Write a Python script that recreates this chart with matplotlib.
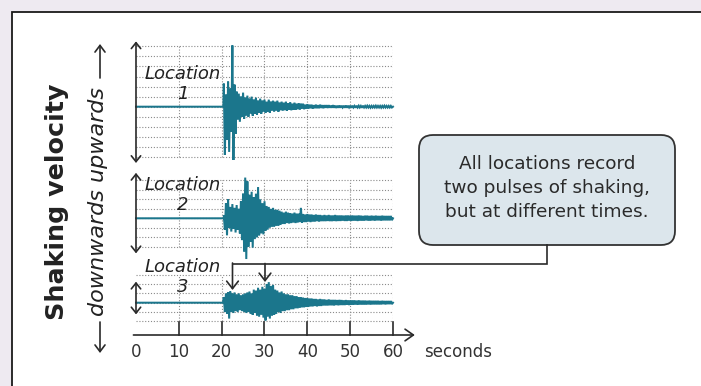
import numpy as np
import matplotlib
matplotlib.use('Agg')
import matplotlib.pyplot as plt
from matplotlib.patches import FancyBboxPatch, Rectangle

# ---------------- data ----------------
time_ticks = [0, 10, 20, 30, 40, 50, 60]
tick_labels = ['0', '10', '20', '30', '40', '50', '60']
location_names = ['Location\n1', 'Location\n2', 'Location\n3']
onset_times = [20.4, 20.7, 20.3]
sample_start = 20.5          # first peak time (s)
half_period = 0.25           # time between a peak and the next trough (s)
record_end = 60.0

loc1_peaks = [2.3, 1.2, 2.5, 1.8, 6.1, 2.2, 1.5, 1.3, 1.0, 1.4,
              0.9, 1.1, 0.8, 1.0, 0.7, 0.9, 0.6, 0.8, 0.6, 0.7,
              0.5, 0.7, 0.5, 0.6, 0.5, 0.6, 0.4, 0.5, 0.4, 0.5,
              0.35, 0.45, 0.3, 0.4, 0.3, 0.35, 0.3, 0.3, 0.2, 0.25,
              0.2, 0.2, 0.15, 0.2, 0.15, 0.2, 0.15, 0.15, 0.15, 0.15,
              0.1, 0.15, 0.1, 0.1, 0.12, 0.1, 0.1, 0.12, 0.1, 0.1,
              0.1, 0.08, 0.1, 0.1, 0.08, 0.1, 0.08, 0.1, 0.08, 0.08,
              0.08, 0.1, 0.08, 0.08, 0.08, 0.1, 0.08, 0.08, 0.08]
loc1_troughs = [-4.8, -3.3, -4.5, -2.5, -5.3, -2.7, -1.3, -1.5, -1.0, -1.2,
                -0.9, -1.0, -0.7, -0.9, -0.7, -0.8, -0.6, -0.7, -0.5, -0.6,
                -0.5, -0.6, -0.4, -0.5, -0.4, -0.5, -0.35, -0.4, -0.35, -0.4,
                -0.3, -0.35, -0.3, -0.3, -0.25, -0.3, -0.2, -0.25, -0.2, -0.2,
                -0.15, -0.2, -0.15, -0.15, -0.15, -0.12, -0.15, -0.1, -0.12, -0.1,
                -0.1, -0.1, -0.12, -0.1, -0.1, -0.08, -0.1, -0.1, -0.08, -0.1,
                -0.08, -0.1, -0.08, -0.08, -0.1, -0.08, -0.08, -0.08, -0.1, -0.08,
                -0.08, -0.08, -0.08, -0.1, -0.08, -0.08, -0.08, -0.08, -0.08]

loc2_peaks = [0.3, 1.6, 2.0, 1.2, 1.5, 1.1, 1.4, 1.0, 1.8, 2.6,
              4.3, 3.9, 2.5, 2.8, 2.2, 2.6, 3.3, 2.0, 1.6, 1.8,
              1.3, 1.2, 1.0, 1.1, 0.9, 0.9, 0.8, 0.7, 0.6, 0.7,
              0.6, 0.55, 0.5, 0.6, 0.5, 0.5, 1.1, 0.45, 0.4, 0.45,
              0.4, 0.4, 0.35, 0.4, 0.35, 0.35, 0.3, 0.35, 0.3, 0.35,
              0.3, 0.3, 0.35, 0.3, 0.3, 0.3, 0.28, 0.3, 0.3, 0.28,
              0.3, 0.28, 0.28, 0.3, 0.28, 0.25, 0.28, 0.28, 0.25, 0.28,
              0.25, 0.28, 0.25, 0.25, 0.28, 0.25, 0.25, 0.25, 0.25]
loc2_troughs = [-1.2, -1.8, -1.0, -1.4, -1.1, -1.5, -1.2, -1.6, -2.3, -3.5,
                -4.3, -3.0, -2.5, -3.1, -2.2, -2.0, -1.8, -1.6, -1.7, -1.3,
                -1.2, -1.0, -0.9, -0.9, -0.8, -0.8, -0.7, -0.6, -0.6, -0.5,
                -0.55, -0.5, -0.45, -0.5, -0.45, -0.4, -0.45, -0.4, -0.4, -0.35,
                -0.4, -0.35, -0.35, -0.3, -0.35, -0.3, -0.3, -0.3, -0.28, -0.3,
                -0.3, -0.28, -0.3, -0.28, -0.28, -0.25, -0.28, -0.28, -0.25, -0.28,
                -0.25, -0.25, -0.28, -0.25, -0.25, -0.25, -0.22, -0.25, -0.25, -0.22,
                -0.25, -0.22, -0.22, -0.25, -0.22, -0.22, -0.22, -0.22, -0.2]

loc3_peaks = [0.6, 1.0, 1.1, 1.2, 1.0, 1.1, 0.9, 1.0, 0.8, 0.9,
              1.0, 1.1, 1.2, 1.0, 1.4, 1.3, 1.6, 1.4, 1.7, 1.5,
              2.0, 2.2, 1.8, 1.9, 1.4, 1.3, 1.1, 1.2, 1.0, 0.9,
              0.9, 0.8, 0.8, 0.7, 0.7, 0.6, 0.6, 0.55, 0.5, 0.5,
              0.45, 0.45, 0.4, 0.4, 0.35, 0.4, 0.35, 0.35, 0.3, 0.35,
              0.3, 0.3, 0.3, 0.28, 0.3, 0.28, 0.25, 0.28, 0.25, 0.25,
              0.25, 0.25, 0.22, 0.25, 0.22, 0.22, 0.22, 0.2, 0.22, 0.2,
              0.2, 0.2, 0.2, 0.18, 0.2, 0.18, 0.18, 0.18, 0.18]
loc3_troughs = [-1.0, -1.2, -1.7, -1.0, -1.1, -0.9, -1.0, -0.8, -0.9, -1.0,
                -1.1, -1.0, -1.2, -1.3, -1.1, -1.4, -1.5, -1.3, -1.6, -1.9,
                -1.5, -1.7, -1.4, -1.3, -1.2, -1.0, -1.1, -0.9, -0.9, -0.8,
                -0.8, -0.7, -0.7, -0.6, -0.6, -0.55, -0.5, -0.5, -0.45, -0.45,
                -0.4, -0.4, -0.35, -0.4, -0.35, -0.35, -0.3, -0.3, -0.3, -0.28,
                -0.28, -0.3, -0.25, -0.28, -0.25, -0.25, -0.25, -0.22, -0.25, -0.22,
                -0.22, -0.2, -0.22, -0.2, -0.2, -0.2, -0.2, -0.18, -0.2, -0.18,
                -0.18, -0.18, -0.18, -0.18, -0.15, -0.18, -0.15, -0.15, -0.15]

callout_text = 'All locations record\ntwo pulses of shaking,\nbut at different times.'

# ---------------- styling / layout ----------------
W, H = 701, 386
TRACE_C = '#1B768C'
INK = '#2a2a2a'
GRID_C = '#8a8a8a'
plt.rcParams['font.family'] = ['DejaVu Sans']

fig = plt.figure(figsize=(W / 100, H / 100), dpi=100)
fig.patch.set_facecolor('#EEEAF1')
panel = Rectangle((11.5 / W, -0.05), 1.0, (H - 11.5) / H + 0.05,
                  transform=fig.transFigure, facecolor='white',
                  edgecolor='#1a1a1a', lw=1.3, zorder=-5)
fig.patches.append(panel)

x0_px, px_per_s = 136.0, 4.283
L = x0_px / W
Wd = 60 * px_per_s / W

# baseline px, px per unit, grid lo, grid hi, arrow lo, arrow hi
panels = [(106.7, 10.05, -5, 6, -5.6, 6.5),
          (218.3, 9.47, -3, 4, -3.7, 4.8),
          (302.7, 9.34, -2, 3, -1.25, 2.25)]
label_pos = [(183, 84), (183, 195), (183, 277)]
series = [(loc1_peaks, loc1_troughs), (loc2_peaks, loc2_troughs),
          (loc3_peaks, loc3_troughs)]

for i, ((base, sc, glo, ghi, alo, ahi), (pk, tr)) in enumerate(zip(panels, series)):
    lo = min(glo, alo) - 0.3
    hi = max(ghi, ahi) + 0.3
    bottom_px = base - lo * sc
    top_px = base - hi * sc
    ax = fig.add_axes([L, (H - bottom_px) / H, Wd, (bottom_px - top_px) / H], zorder=2)
    ax.set_xlim(0, 60)
    ax.set_ylim(lo, hi)
    ax.axis('off')
    # grid
    for g in range(glo, ghi + 1):
        ax.plot([0, 60], [g, g], color=GRID_C, lw=0.8, ls=(0, (1, 1.6)), zorder=1)
    for t in time_ticks[1:]:
        ax.plot([t, t], [glo, ghi], color=GRID_C, lw=0.8, ls=(0, (1, 1.6)), zorder=1)
    # trace
    n = len(pk)
    ts = sample_start + half_period * np.arange(2 * n)
    vals = np.empty(2 * n)
    vals[0::2] = pk
    vals[1::2] = tr
    t_all = np.concatenate([[0, onset_times[i]], ts, [record_end]])
    v_all = np.concatenate([[0, 0], vals, [0]])
    ax.plot(t_all, v_all, color=TRACE_C, lw=1.45, zorder=3, solid_joinstyle='miter',
            clip_on=False)
    # double arrow
    ax.annotate('', xy=(0, ahi), xytext=(0, alo), annotation_clip=False,
                arrowprops=dict(arrowstyle='<->,head_length=0.35,head_width=0.28',
                                color=INK, lw=1.2, shrinkA=0, shrinkB=0,
                                mutation_scale=12), zorder=4)

# x axis
axx = fig.add_axes([L, (H - 335) / H, Wd, 13 / H], zorder=2)
axx.set_xlim(0, 60)
axx.set_ylim(0, 1)
for s in axx.spines.values():
    s.set_visible(False)
axx.set_yticks([])
axx.set_xticks(time_ticks)
axx.set_xticklabels(tick_labels)
axx.tick_params(axis='x', length=0, pad=6, labelsize=12, labelcolor='#333333')
axx.patch.set_alpha(0)
for t in time_ticks[1:]:
    axx.plot([t, t], [0, 1], color=INK, lw=1.2, clip_on=False)
axx.annotate('', xy=(65.1, 0), xytext=(-0.6, 0), annotation_clip=False,
             arrowprops=dict(arrowstyle='->,head_length=0.5,head_width=0.35',
                             color=INK, lw=1.2, shrinkA=0, shrinkB=0,
                             mutation_scale=12))

# overlay in pixel coordinates for annotations
ov = fig.add_axes([0, 0, 1, 1], zorder=10)
ov.set_xlim(0, W)
ov.set_ylim(H, 0)
ov.axis('off')
ov.patch.set_alpha(0)

ov.text(458, 352, 'seconds', ha='center', va='center', fontsize=12, color='#333333')

for (x, y), name in zip(label_pos, location_names):
    ov.text(x, y, name, ha='center', va='center', fontsize=13, style='italic',
            color='#222222', linespacing=1.15)

ov.text(57, 202, 'Shaking velocity', rotation=90, ha='center', va='center',
        fontsize=18.3, fontweight='bold', color='#222222')
ov.text(98, 201, 'downwards upwards', rotation=90, ha='center', va='center',
        fontsize=16, style='italic', color='#222222')
ov.annotate('', xy=(100, 44), xytext=(100, 78),
            arrowprops=dict(arrowstyle='->,head_length=0.4,head_width=0.3',
                            color=INK, lw=1.2, shrinkA=0, shrinkB=0, mutation_scale=12))
ov.annotate('', xy=(100, 353), xytext=(100, 322),
            arrowprops=dict(arrowstyle='->,head_length=0.4,head_width=0.3',
                            color=INK, lw=1.2, shrinkA=0, shrinkB=0, mutation_scale=12))

# callout box
box = FancyBboxPatch((419, 135), 256, 110, boxstyle='round,pad=0,rounding_size=14',
                     facecolor='#DCE6EC', edgecolor='#333333', lw=1.3, zorder=5)
ov.add_patch(box)
ov.text(547, 188, callout_text, ha='center', va='center', fontsize=13.3,
        color='#2a2a2a', linespacing=1.4, zorder=6)

# connector
ov.plot([547, 547, 232.5], [245, 263.5, 263.5], color=INK, lw=1.2,
        solid_joinstyle='miter', zorder=5)
ov.annotate('', xy=(232.5, 290), xytext=(232.5, 263),
            arrowprops=dict(arrowstyle='->,head_length=0.45,head_width=0.35',
                            color=INK, lw=1.2, shrinkA=0, shrinkB=0, mutation_scale=12))
ov.annotate('', xy=(265, 282), xytext=(265, 263.5),
            arrowprops=dict(arrowstyle='->,head_length=0.45,head_width=0.35',
                            color=INK, lw=1.2, shrinkA=0, shrinkB=0, mutation_scale=12))

fig.savefig('out.png', dpi=100, facecolor=fig.get_facecolor())
